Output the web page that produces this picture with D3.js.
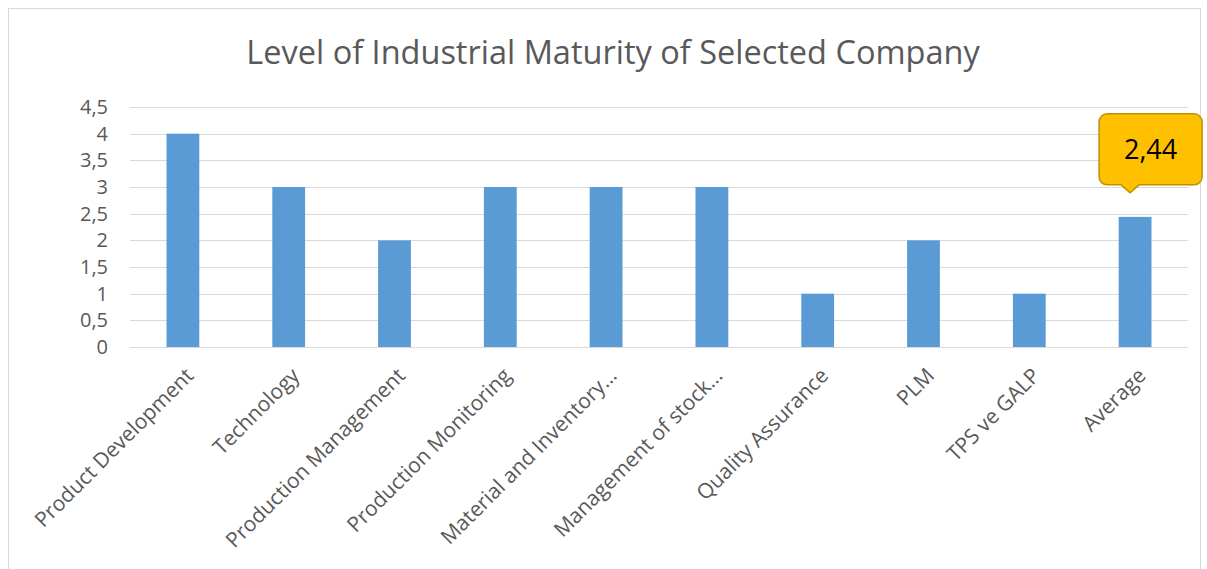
<!DOCTYPE html>
<html>
<head>
<meta charset="utf-8">
<script src="https://cdn.jsdelivr.net/npm/d3@7"></script>
<style>
  body { margin: 0; background: #fff; }
  text { font-family: "Open Sans", "Noto Sans", sans-serif; }
</style>
</head>
<body>
<div id="chart-area"></div>
<script>
// chart data
var categories = ["Product Development", "Technology", "Production Management",
    "Production Monitoring", "Material and Inventory…", "Management of stock…",
    "Quality Assurance", "PLM", "TPS ve GALP", "Average"];
var values = [4, 3, 2, 3, 3, 3, 1, 2, 1, 2.44];
var yTicks = [0, 0.5, 1, 1.5, 2, 2.5, 3, 3.5, 4, 4.5];
var calloutLabel = "2,44";

var W = 1207, H = 569;
var margin = { left: 130, right: 19, top: 107, bottom: 222 };
var width = W - margin.left - margin.right;
var height = H - margin.top - margin.bottom;

var svg = d3.select("#chart-area").append("svg")
    .attr("width", W)
    .attr("height", H);

// outer frame
svg.append("rect")
    .attr("x", 8.5).attr("y", 8.5)
    .attr("width", 1192).attr("height", 600)
    .attr("fill", "none")
    .attr("stroke", "#d9d9d9");

svg.append("text")
    .attr("x", 613)
    .attr("y", 64)
    .attr("text-anchor", "middle")
    .attr("font-size", "32.5px")
    .style("fill", "#595959")
    .text("Level of Industrial Maturity of Selected Company");

var g = svg.append("g")
    .attr("transform", "translate(" + margin.left + ", " + margin.top + ")");

var x = d3.scaleBand()
    .domain(categories)
    .range([0, width])
    .paddingInner(0.69)
    .paddingOuter(0.345);

var y = d3.scaleLinear()
    .domain([0, 4.5])
    .range([height, 0]);

var fmt = function(d) { return String(d).replace(".", ","); };

// grid
g.selectAll(".grid")
    .data(yTicks)
    .enter().append("line")
    .attr("x1", 0).attr("x2", width)
    .attr("y1", function(d) { return Math.round(y(d)) + 0.5; })
    .attr("y2", function(d) { return Math.round(y(d)) + 0.5; })
    .attr("stroke", "#d9d9d9")
    .attr("stroke-width", 1);

var leftAxis = d3.axisLeft(y).tickValues(yTicks).tickSize(0).tickPadding(22)
    .tickFormat(fmt);
g.append("g")
    .attr("class", "left axis")
    .call(leftAxis)
    .call(function(a) { a.select(".domain").remove(); })
    .selectAll("text")
    .attr("font-size", "20px")
    .style("font-family", "'Open Sans', sans-serif")
    .style("fill", "#595959");

var bottomAxis = d3.axisBottom(x).tickSize(0);
g.append("g")
    .attr("class", "bottom axis")
    .attr("transform", "translate(0, " + height + ")")
    .call(bottomAxis)
    .call(function(a) { a.select(".domain").remove(); })
    .selectAll("text")
    .attr("font-size", "21px")
    .style("font-family", "'Open Sans', sans-serif")
    .style("fill", "#595959")
    .attr("text-anchor", "end")
    .attr("dy", "0")
    .attr("y", 0)
    .attr("transform", "translate(12, 30) rotate(-45)");

g.selectAll("rect.bar")
    .data(values)
    .enter().append("rect")
    .attr("class", "bar")
    .attr("x", function(d, i) { return x(categories[i]); })
    .attr("y", function(d) { return y(d); })
    .attr("width", x.bandwidth())
    .attr("height", function(d) { return height - y(d); })
    .attr("fill", "#5b9bd5");

// callout over the last bar
var last = values.length - 1;
var tipX = x(categories[last]) + x.bandwidth() / 2 - 5;
var tipY = y(values[last]) - 24;
var bx = tipX - 31, bw = 103, by = tipY - 79, bh = 71, r = 8;
var path = d3.path();
path.moveTo(bx + r, by);
path.lineTo(bx + bw - r, by);
path.arcTo(bx + bw, by, bx + bw, by + r, r);
path.lineTo(bx + bw, by + bh - r);
path.arcTo(bx + bw, by + bh, bx + bw - r, by + bh, r);
path.lineTo(tipX + 9, by + bh);
path.lineTo(tipX, tipY);
path.lineTo(tipX - 9, by + bh);
path.lineTo(bx + r, by + bh);
path.arcTo(bx, by + bh, bx, by + bh - r, r);
path.lineTo(bx, by + r);
path.arcTo(bx, by, bx + r, by, r);
path.closePath();
g.append("path")
    .attr("d", path.toString())
    .attr("fill", "#ffc000")
    .attr("stroke", "#bf9000")
    .attr("stroke-width", 1.5);
g.append("text")
    .attr("x", bx + bw / 2)
    .attr("y", by + bh / 2 + 10)
    .attr("text-anchor", "middle")
    .attr("font-size", "27px")
    .style("fill", "#000")
    .text(calloutLabel);
</script>
</body>
</html>
